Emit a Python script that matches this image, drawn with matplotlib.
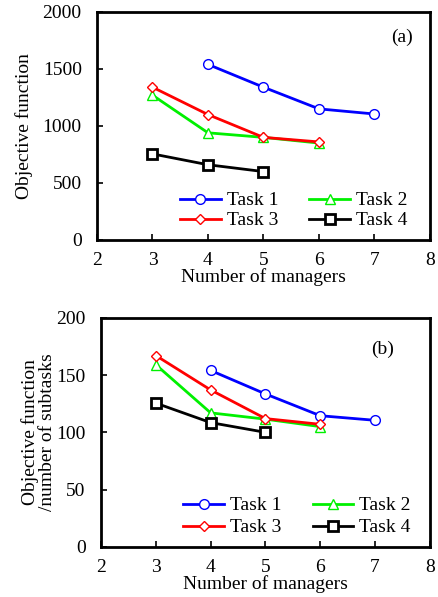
import matplotlib
matplotlib.use("Agg")
import matplotlib.pyplot as plt

plt.rcParams["font.family"] = ["Liberation Serif", "DejaVu Serif"]

# number of managers per task
x_t1 = [4, 5, 6, 7]
x_t2 = [3, 4, 5, 6]
x_t3 = [3, 4, 5, 6]
x_t4 = [3, 4, 5]

# (a) objective function
a_t1 = [1540, 1340, 1150, 1105]
a_t2 = [1270, 940, 900, 850]
a_t3 = [1340, 1100, 900, 860]
a_t4 = [755, 660, 600]

# (b) objective function / number of subtasks
b_t1 = [154, 133.5, 114.5, 110.5]
b_t2 = [159, 117, 111.5, 105]
b_t3 = [167, 137, 112, 107]
b_t4 = [125.5, 108.5, 100]

labels = ["Task 1", "Task 2", "Task 3", "Task 4"]
styles = [
    dict(color="#0000ff", marker="o", ms=7, mew=1.0),
    dict(color="#00f000", marker="^", ms=7.5, mew=1.0),
    dict(color="#ff0000", marker="D", ms=5.5, mew=1.0),
    dict(color="black", marker="s", ms=7, mew=2.0),
]

FS = 14


def panel(ax, series, ylim, yticks, ylabel, tag, tag_xy, lpad, leg_x, lspace):
    lines = []
    for (xs, ys), lab, st in zip(series, labels, styles):
        ln, = ax.plot(xs, ys, "-", lw=2, color=st["color"], marker=st["marker"],
                      ms=st["ms"], mew=st["mew"], mfc="white", mec=st["color"],
                      label=lab)
        lines.append(ln)
    ax.set_xlim(2, 8)
    ax.set_ylim(*ylim)
    ax.set_xticks(range(2, 9))
    ax.set_yticks(yticks)
    ax.tick_params(direction="in", length=4, width=1.2, labelsize=FS)
    ax.tick_params(axis="y", pad=11)
    ax.tick_params(axis="x", pad=9)
    for s in ax.spines.values():
        s.set_linewidth(2)
    ax.set_xlabel("Number of managers", fontsize=FS, labelpad=-1)
    ax.set_ylabel(ylabel, fontsize=FS, linespacing=1.0, labelpad=lpad)
    ax.text(tag_xy[0], tag_xy[1], tag, transform=ax.transAxes, ha="right",
            va="center", fontsize=FS)
    # rows: Task 1 / Task 2, then Task 3 / Task 4
    order = [0, 2, 1, 3]
    ax.legend([lines[i] for i in order], [labels[i] for i in order],
              loc="lower right", bbox_to_anchor=(leg_x, -0.03), ncol=2,
              frameon=False, fontsize=FS, handlelength=2.1,
              handletextpad=0.3, columnspacing=1.6, labelspacing=lspace)


fig = plt.figure(figsize=(4.38, 5.97), dpi=100)
ax1 = fig.add_axes([0.2215, 0.598, 0.760, 0.382])
ax2 = fig.add_axes([0.2306, 0.0838, 0.751, 0.384])

panel(ax1, [(x_t1, a_t1), (x_t2, a_t2), (x_t3, a_t3), (x_t4, a_t4)],
      (0, 2000), [0, 500, 1000, 1500, 2000], "Objective function", "(a)",
      (0.95, 0.89), 7, 0.985, 0.12)
panel(ax2, [(x_t1, b_t1), (x_t2, b_t2), (x_t3, b_t3), (x_t4, b_t4)],
      (0, 200), [0, 50, 100, 150, 200],
      "Objective function\n/number of subtasks", "(b)",
      (0.89, 0.86), 0, 0.995, 0.22)

fig.savefig("out.png", dpi=100)
